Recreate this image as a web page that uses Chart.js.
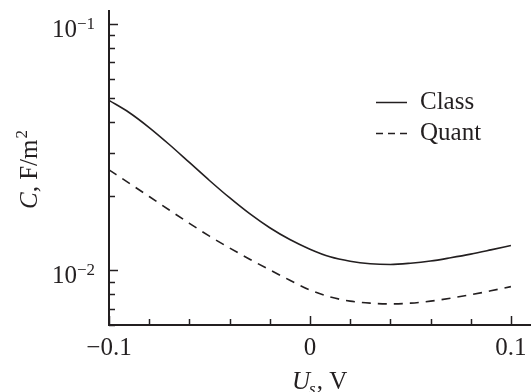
<!DOCTYPE html>
<html lang="en">
<head>
  <meta charset="UTF-8">
  <title>C vs Us</title>
  <script src="https://cdn.jsdelivr.net/npm/chart.js"></script>
  <style>
    body {
      margin: 0;
      padding: 0;
      background-color: white;
    }
    canvas {
      display: block;
    }
  </style>
</head>
<body>

<canvas id="capChart" width="531" height="392"></canvas>

<script>
  // surface potential, V
  var xValues = [-0.1, -0.09, -0.08, -0.07, -0.06, -0.05, -0.04, -0.03, -0.02, -0.01, 0,
                 0.01, 0.02, 0.03, 0.04, 0.05, 0.06, 0.07, 0.08, 0.09, 0.1];
  // capacitance, F/m^2
  var classValues = [0.0490, 0.04375, 0.0380, 0.03243, 0.02742, 0.02317, 0.01972, 0.01698, 0.01489, 0.01334, 0.01219,
                     0.01135, 0.01089, 0.01064, 0.01057, 0.01069, 0.01091, 0.01125, 0.01164, 0.01211, 0.01262];
  var quantValues = [0.0256, 0.0226, 0.01995, 0.01758, 0.01552, 0.01377, 0.01233, 0.0111, 0.01005, 0.00912, 0.00832,
                     0.00780, 0.00750, 0.00736, 0.00731, 0.00736, 0.00750, 0.00771, 0.00796, 0.00826, 0.00859];
  var seriesNames = ['Class', 'Quant'];

  var xMajorTicks = [-0.1, 0, 0.1];
  var xTickLabels = ['\u22120.1', '0', '0.1'];
  var yLabelValues = [0.01, 0.1];
  var yLabelExps = ['\u22122', '\u22121'];

  var ink = '#231f20';
  var serif = "'Liberation Serif', 'Times New Roman', serif";

  function pairs(ys) {
    return xValues.map(function (x, i) { return { x: x, y: ys[i] }; });
  }

  function isMajorX(v) {
    return xMajorTicks.some(function (m) { return Math.abs(m - v) < 1e-9; });
  }

  // ticks inside the plot, labels with superscripts, titles and legend
  var decorPlugin = {
    id: 'decor',
    afterDraw: function (chart) {
      var ctx = chart.ctx;
      var xs = chart.scales.x;
      var ys = chart.scales.y;
      var area = chart.chartArea;
      ctx.save();
      ctx.strokeStyle = ink;
      ctx.fillStyle = ink;
      ctx.lineWidth = 1.5;

      // x ticks pointing up
      xs.ticks.forEach(function (t) {
        var steps = t.value / 0.02;
        if (Math.abs(steps - Math.round(steps)) > 1e-6 || t.value > 0.1 + 1e-9) return;
        var px = Math.round(xs.getPixelForValue(t.value)) + 0.5;
        var len = isMajorX(t.value) ? 9 : 6;
        ctx.beginPath();
        ctx.moveTo(px, area.bottom);
        ctx.lineTo(px, area.bottom - len);
        ctx.stroke();
      });

      // y ticks pointing right
      ys.ticks.forEach(function (t) {
        var v = t.value;
        var e = Math.floor(Math.log10(v) + 1e-9);
        var m = v / Math.pow(10, e);
        if (Math.abs(m - Math.round(m)) > 1e-6) return;
        var py = Math.round(ys.getPixelForValue(v)) + 0.5;
        var len = Math.round(m) === 1 ? 9 : 6;
        ctx.beginPath();
        ctx.moveTo(area.left, py);
        ctx.lineTo(area.left + len, py);
        ctx.stroke();
      });

      // y labels 10^n
      ctx.textBaseline = 'alphabetic';
      yLabelValues.forEach(function (v, i) {
        var py = ys.getPixelForValue(v);
        ctx.font = '17px ' + serif;
        var expW = ctx.measureText(yLabelExps[i]).width;
        var right = area.left - 14;
        ctx.textAlign = 'left';
        ctx.fillText(yLabelExps[i], right - expW, py + 5);
        ctx.font = '25px ' + serif;
        var baseW = ctx.measureText('10').width;
        ctx.fillText('10', right - expW - baseW, py + 13);
      });

      // y title
      ctx.save();
      ctx.translate(37, 170);
      ctx.rotate(-Math.PI / 2);
      ctx.textAlign = 'left';
      ctx.font = 'italic 25px ' + serif;
      var w1 = ctx.measureText('C').width;
      ctx.font = '25px ' + serif;
      var w2 = ctx.measureText(', F/m').width;
      ctx.font = '17px ' + serif;
      var w3 = ctx.measureText('2').width;
      var sx = -(w1 + w2 + w3) / 2;
      ctx.font = 'italic 25px ' + serif;
      ctx.fillText('C', sx, 0);
      ctx.font = '25px ' + serif;
      ctx.fillText(', F/m', sx + w1, 0);
      ctx.font = '17px ' + serif;
      ctx.fillText('2', sx + w1 + w2 + 1, -10);
      ctx.restore();

      // x title
      ctx.textAlign = 'left';
      var tx = 292, ty = 389;
      ctx.font = 'italic 25px ' + serif;
      ctx.fillText('U', tx, ty);
      var uw = ctx.measureText('U').width;
      ctx.font = 'italic 17px ' + serif;
      ctx.fillText('s', tx + uw - 1, ty + 5);
      var sw = ctx.measureText('s').width;
      ctx.font = '25px ' + serif;
      ctx.fillText(', V', tx + uw + sw, ty);

      // legend
      var lx0 = 376, lx1 = 407, tx2 = 420;
      var rows = [102, 133];
      chart.data.datasets.forEach(function (ds, i) {
        ctx.lineWidth = 1.5;
        ctx.setLineDash(i === 0 ? [] : [7, 5]);
        ctx.beginPath();
        ctx.moveTo(lx0, rows[i] + 0.5);
        ctx.lineTo(lx1, rows[i] + 0.5);
        ctx.stroke();
        ctx.setLineDash([]);
        ctx.font = '25px ' + serif;
        ctx.fillText(seriesNames[i], tx2, rows[i] + 7);
      });

      ctx.restore();
    }
  };

  var ctx = document.getElementById('capChart').getContext('2d');

  var capChart = new Chart(ctx, {
    type: 'line',
    data: {
      datasets: [{
        label: seriesNames[0],
        data: pairs(classValues),
        borderColor: ink,
        borderWidth: 1.6,
        pointRadius: 0,
        cubicInterpolationMode: 'monotone',
        fill: false
      }, {
        label: seriesNames[1],
        data: pairs(quantValues),
        borderColor: ink,
        borderWidth: 1.6,
        borderDash: [9, 7],
        pointRadius: 0,
        cubicInterpolationMode: 'monotone',
        fill: false
      }]
    },
    options: {
      responsive: false,
      animation: false,
      layout: {
        padding: { top: 11, right: 0, left: 0, bottom: 0 }
      },
      scales: {
        x: {
          type: 'linear',
          min: -0.1,
          max: 0.11,
          afterFit: function (scale) {
            scale.height = 67;
            scale.paddingRight = 0;
          },
          ticks: {
            stepSize: 0.02,
            includeBounds: false,
            autoSkip: false,
            maxRotation: 0,
            padding: 8,
            color: ink,
            font: { family: serif, size: 25 },
            callback: function (v) {
              for (var i = 0; i < xMajorTicks.length; i++) {
                if (Math.abs(xMajorTicks[i] - v) < 1e-9) return xTickLabels[i];
              }
              return '';
            }
          },
          grid: {
            drawOnChartArea: false,
            drawTicks: false
          },
          border: {
            display: true,
            color: ink,
            width: 2
          }
        },
        y: {
          type: 'logarithmic',
          min: 0.006,
          max: 0.113,
          afterFit: function (scale) { scale.width = 109; },
          ticks: {
            display: false
          },
          grid: {
            drawOnChartArea: false,
            drawTicks: false
          },
          border: {
            display: true,
            color: ink,
            width: 2
          }
        }
      },
      plugins: {
        legend: { display: false },
        tooltip: { enabled: false }
      }
    },
    plugins: [decorPlugin]
  });
</script>

</body>
</html>
